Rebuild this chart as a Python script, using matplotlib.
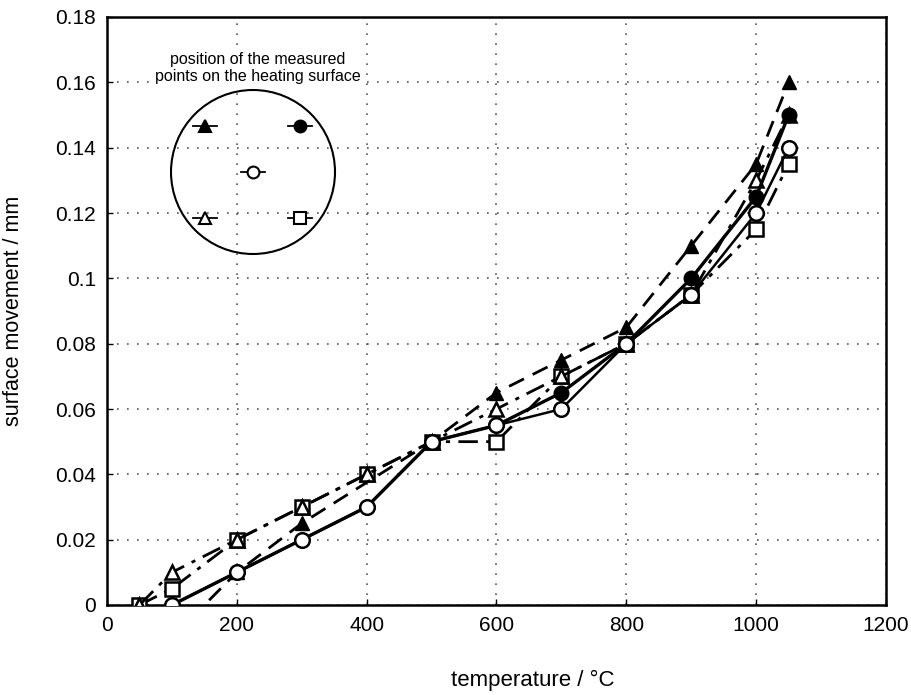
import matplotlib
matplotlib.use("Agg")
import matplotlib.pyplot as plt
from matplotlib.patches import Circle

plt.rcParams['font.family'] = ['Liberation Sans', 'DejaVu Sans']

# measured data (temperature in degC, surface movement in mm)
t_ftri = [100, 200, 300, 500, 600, 700, 800, 900, 1000, 1050]
m_ftri = [-0.01, 0.01, 0.025, 0.05, 0.065, 0.075, 0.085, 0.11, 0.135, 0.16]

t_fcir = [100, 200, 300, 400, 500, 600, 700, 800, 900, 1000, 1050]
m_fcir = [0.0, 0.01, 0.02, 0.03, 0.05, 0.055, 0.065, 0.08, 0.10, 0.125, 0.15]

t_ocir = [100, 200, 300, 400, 500, 600, 700, 800, 900, 1000, 1050]
m_ocir = [0.0, 0.01, 0.02, 0.03, 0.05, 0.055, 0.06, 0.08, 0.095, 0.12, 0.14]

t_otri = [50, 100, 200, 300, 400, 500, 600, 700, 800, 900, 1000, 1050]
m_otri = [0.0, 0.01, 0.02, 0.03, 0.04, 0.05, 0.06, 0.07, 0.08, 0.095, 0.13, 0.15]

t_osq = [50, 100, 200, 300, 400, 500, 600, 700, 800, 900, 1000, 1050]
m_osq = [0.0, 0.005, 0.02, 0.03, 0.04, 0.05, 0.05, 0.07, 0.08, 0.095, 0.115, 0.135]

xticks = [0, 200, 400, 600, 800, 1000, 1200]
yticks = [0, 0.02, 0.04, 0.06, 0.08, 0.1, 0.12, 0.14, 0.16, 0.18]
ytick_labels = ["0", "0.02", "0.04", "0.06", "0.08", "0.1", "0.12", "0.14", "0.16", "0.18"]

W, H = 912, 695
fig = plt.figure(figsize=(W / 100, H / 100), dpi=100)
fig.patch.set_facecolor("white")
ax = fig.add_axes([107 / W, 1 - 605 / H, (886 - 107) / W, (605 - 17) / H])

ms = 10.5
ax.plot(t_osq, m_osq, color="black", lw=2, ls=(0, (7, 3, 1.5, 3)), marker="s",
        mfc="white", mec="black", mew=1.8, ms=ms, zorder=3)
ax.plot(t_otri, m_otri, color="black", lw=2, ls=(0, (7, 3, 1.5, 3)), marker="^",
        mfc="white", mec="black", mew=1.8, ms=ms, zorder=3)
ax.plot(t_ftri, m_ftri, color="black", lw=2, ls=(0, (6, 3.5)), marker="^",
        mfc="black", mec="black", ms=ms, zorder=3)
ax.plot(t_fcir, m_fcir, color="black", lw=2.4, ls="-", marker="o",
        mfc="black", mec="black", ms=ms, zorder=4)
ax.plot(t_ocir, m_ocir, color="black", lw=1.8, ls="-", marker="o",
        mfc="white", mec="black", mew=1.8, ms=ms, zorder=4)

ax.set_xlim(0, 1200)
ax.set_ylim(0, 0.18)
ax.set_xticks(xticks)
ax.set_yticks(yticks)
ax.set_yticklabels(ytick_labels)
ax.tick_params(direction="in", length=4, width=1, labelsize=15, pad=8)
ax.grid(True, ls=(0, (1, 5)), color="#555555", lw=1.2)
for s in ax.spines.values():
    s.set_linewidth(1.8)
ax.set_xlabel("temperature / °C", fontsize=16, labelpad=26)
ax.xaxis.set_label_coords((533 - 107) / 779, -0.1)
ax.xaxis.label.set_va("center")
ax.xaxis.set_label_coords((533 - 107) / 779, -(680 - 605) / 588)
ax.set_ylabel("surface movement / mm", fontsize=15.5, labelpad=22)

# inset: sketch of the measured point positions
cx, cy, r = 253, 172, 82
ins = fig.add_axes([(cx - 88) / W, 1 - (cy + 88) / H, 176 / W, 176 / H])
ins.set_xlim(cx - 88, cx + 88)
ins.set_ylim(cy + 88, cy - 88)
ins.set_facecolor("white")
ins.axis("off")
ins.patch.set_visible(True)
ins.add_patch(Circle((cx, cy), r, fill=False, ec="black", lw=1.5))
pos = [(205, 126, "^", "black"), (300, 126, "o", "black"), (253, 172, "o", "white"),
       (205, 218, "^", "white"), (300, 218, "s", "white")]
for px, py, mk, fc in pos:
    ins.plot([px - 12, px + 12], [py, py], color="black", lw=1.3)
    ins.plot(px, py, marker=mk, mfc=fc, mec="black", mew=1.5, ms=8.5, ls="none")

fig.text(258 / W, 1 - 68 / H, "position of the measured\npoints on the heating surface",
         ha="center", va="center", fontsize=11.5, linespacing=1.2,
         bbox=dict(fc="white", ec="none", pad=1))

fig.savefig("out.png", dpi=100, facecolor="white")
